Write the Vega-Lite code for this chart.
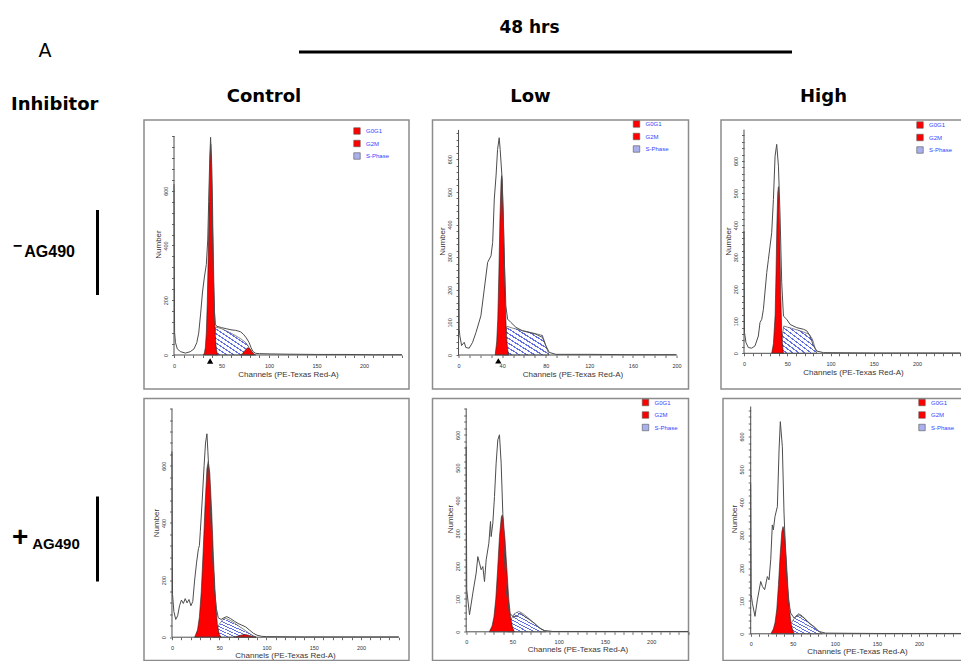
{
"$schema": "https://vega.github.io/schema/vega-lite/v6.json",
"padding": 0,
"background": "white",
"spacing": 0,
"resolve": {"scale": {"color": "independent"}, "legend": {"color": "independent"}},
"datasets": {
"p11": [{"k":"h","ch":0,"n":624},{"k":"h","ch":0.6,"n":83},{"k":"h","ch":1.5,"n":46},{"k":"h","ch":3.5,"n":22},{"k":"h","ch":7,"n":12},{"k":"h","ch":12,"n":7},{"k":"h","ch":17,"n":12},{"k":"h","ch":21,"n":22},{"k":"h","ch":24,"n":45},{"k":"h","ch":26,"n":80},{"k":"h","ch":28,"n":150},{"k":"h","ch":30,"n":230},{"k":"h","ch":32,"n":285},{"k":"h","ch":34,"n":330},{"k":"h","ch":35.5,"n":420},{"k":"h","ch":36.5,"n":560},{"k":"h","ch":37.5,"n":700},{"k":"h","ch":38.5,"n":795},{"k":"h","ch":39.5,"n":700},{"k":"h","ch":40.5,"n":480},{"k":"h","ch":41.5,"n":280},{"k":"h","ch":42.5,"n":160},{"k":"h","ch":43.5,"n":112},{"k":"h","ch":45,"n":105},{"k":"h","ch":50,"n":100},{"k":"h","ch":55,"n":96},{"k":"h","ch":60,"n":92},{"k":"h","ch":65,"n":90},{"k":"h","ch":70,"n":85},{"k":"h","ch":73,"n":76},{"k":"h","ch":76,"n":63},{"k":"h","ch":79,"n":46},{"k":"h","ch":81,"n":28},{"k":"h","ch":83,"n":13},{"k":"h","ch":86,"n":6},{"k":"h","ch":90,"n":5},{"k":"h","ch":100,"n":4},{"k":"h","ch":120,"n":3},{"k":"h","ch":150,"n":2},{"k":"h","ch":180,"n":2},{"k":"h","ch":210,"n":1},{"k":"h","ch":240,"n":1},
{"k":"g1","ch":31,"n":0},{"k":"g1","ch":32,"n":8},{"k":"g1","ch":33,"n":27},{"k":"g1","ch":34,"n":80},{"k":"g1","ch":35,"n":188},{"k":"g1","ch":36,"n":360},{"k":"g1","ch":37,"n":570},{"k":"g1","ch":38,"n":730},{"k":"g1","ch":38.7,"n":770},{"k":"g1","ch":39.5,"n":720},{"k":"g1","ch":40.5,"n":565},{"k":"g1","ch":41.5,"n":345},{"k":"g1","ch":42.5,"n":175},{"k":"g1","ch":43.5,"n":70},{"k":"g1","ch":44.5,"n":23},{"k":"g1","ch":45.5,"n":6},{"k":"g1","ch":46,"n":0},
{"k":"g2","ch":70,"n":0},{"k":"g2","ch":72,"n":5},{"k":"g2","ch":74,"n":13},{"k":"g2","ch":76,"n":22},{"k":"g2","ch":78,"n":27},{"k":"g2","ch":80,"n":22},{"k":"g2","ch":82,"n":12},{"k":"g2","ch":84,"n":4},{"k":"g2","ch":86,"n":0},
{"k":"s","ch":40,"n":0},{"k":"s","ch":42,"n":50},{"k":"s","ch":44,"n":102},{"k":"s","ch":50,"n":96},{"k":"s","ch":60,"n":80},{"k":"s","ch":70,"n":60},{"k":"s","ch":76,"n":44},{"k":"s","ch":80,"n":22},{"k":"s","ch":84,"n":0},
{"k":"mk","ch":38,"n":0}],
"p12": [{"k":"h","ch":0,"n":544},{"k":"h","ch":0.6,"n":80},{"k":"h","ch":1.2,"n":59},{"k":"h","ch":2.8,"n":29},{"k":"h","ch":5.2,"n":39},{"k":"h","ch":6.7,"n":23},{"k":"h","ch":9.8,"n":21},{"k":"h","ch":12.9,"n":39},{"k":"h","ch":16,"n":69},{"k":"h","ch":20.5,"n":120},{"k":"h","ch":23.6,"n":202},{"k":"h","ch":26.7,"n":284},{"k":"h","ch":29.8,"n":304},{"k":"h","ch":31.3,"n":345},{"k":"h","ch":32.8,"n":478},{"k":"h","ch":34.4,"n":549},{"k":"h","ch":35.8,"n":630},{"k":"h","ch":37.3,"n":666},{"k":"h","ch":38.2,"n":630},{"k":"h","ch":39.8,"n":549},{"k":"h","ch":41,"n":427},{"k":"h","ch":42.2,"n":273},{"k":"h","ch":43.4,"n":151},{"k":"h","ch":45,"n":110},{"k":"h","ch":48,"n":100},{"k":"h","ch":52.6,"n":85},{"k":"h","ch":58.7,"n":74},{"k":"h","ch":64.8,"n":69},{"k":"h","ch":71,"n":64},{"k":"h","ch":77,"n":54},{"k":"h","ch":80,"n":29},{"k":"h","ch":83.2,"n":8},{"k":"h","ch":89.3,"n":2},{"k":"h","ch":120,"n":2},{"k":"h","ch":160,"n":1},{"k":"h","ch":200,"n":1},
{"k":"g1","ch":33.6,"n":0},{"k":"g1","ch":35,"n":40},{"k":"g1","ch":36,"n":110},{"k":"g1","ch":37,"n":250},{"k":"g1","ch":38,"n":420},{"k":"g1","ch":39,"n":530},{"k":"g1","ch":39.5,"n":550},{"k":"g1","ch":40,"n":540},{"k":"g1","ch":41,"n":440},{"k":"g1","ch":42,"n":290},{"k":"g1","ch":43,"n":150},{"k":"g1","ch":44,"n":60},{"k":"g1","ch":45,"n":18},{"k":"g1","ch":46,"n":0},
{"k":"s","ch":41,"n":0},{"k":"s","ch":43,"n":60},{"k":"s","ch":44.5,"n":88},{"k":"s","ch":50,"n":82},{"k":"s","ch":60,"n":74},{"k":"s","ch":70,"n":66},{"k":"s","ch":77,"n":60},{"k":"s","ch":80,"n":30},{"k":"s","ch":83,"n":0},
{"k":"mk","ch":36.5,"n":0}],
"p13": [{"k":"h","ch":0,"n":381},{"k":"h","ch":0.6,"n":64},{"k":"h","ch":2.3,"n":33},{"k":"h","ch":5,"n":18},{"k":"h","ch":8.9,"n":16},{"k":"h","ch":12.7,"n":23},{"k":"h","ch":16.6,"n":54},{"k":"h","ch":18.5,"n":96},{"k":"h","ch":20.5,"n":106},{"k":"h","ch":22.4,"n":137},{"k":"h","ch":26.3,"n":252},{"k":"h","ch":28.2,"n":293},{"k":"h","ch":32,"n":376},{"k":"h","ch":34,"n":480},{"k":"h","ch":35.9,"n":615},{"k":"h","ch":37.8,"n":652},{"k":"h","ch":39.8,"n":584},{"k":"h","ch":41.7,"n":428},{"k":"h","ch":43.6,"n":220},{"k":"h","ch":45.6,"n":116},{"k":"h","ch":49.4,"n":106},{"k":"h","ch":53.3,"n":90},{"k":"h","ch":61,"n":80},{"k":"h","ch":68.7,"n":75},{"k":"h","ch":72.6,"n":70},{"k":"h","ch":76.4,"n":54},{"k":"h","ch":80.3,"n":23},{"k":"h","ch":84.2,"n":7},{"k":"h","ch":92,"n":2},{"k":"h","ch":150,"n":1},{"k":"h","ch":250,"n":1},
{"k":"g1","ch":32,"n":0},{"k":"g1","ch":34,"n":30},{"k":"g1","ch":36,"n":120},{"k":"g1","ch":37,"n":250},{"k":"g1","ch":38,"n":400},{"k":"g1","ch":39,"n":500},{"k":"g1","ch":39.8,"n":520},{"k":"g1","ch":40.5,"n":470},{"k":"g1","ch":41.5,"n":330},{"k":"g1","ch":42.5,"n":180},{"k":"g1","ch":43.5,"n":80},{"k":"g1","ch":44.5,"n":25},{"k":"g1","ch":45.6,"n":0},
{"k":"s","ch":42,"n":0},{"k":"s","ch":44,"n":50},{"k":"s","ch":46,"n":85},{"k":"s","ch":55,"n":78},{"k":"s","ch":65,"n":70},{"k":"s","ch":75,"n":60},{"k":"s","ch":79,"n":45},{"k":"s","ch":84,"n":0}],
"p21": [{"k":"h","ch":0,"n":650},{"k":"h","ch":0.6,"n":150},{"k":"h","ch":2,"n":90},{"k":"h","ch":4,"n":62},{"k":"h","ch":6,"n":75},{"k":"h","ch":8,"n":110},{"k":"h","ch":10,"n":130},{"k":"h","ch":12,"n":118},{"k":"h","ch":14,"n":135},{"k":"h","ch":16,"n":120},{"k":"h","ch":18,"n":132},{"k":"h","ch":20,"n":110},{"k":"h","ch":22,"n":125},{"k":"h","ch":24,"n":200},{"k":"h","ch":26,"n":260},{"k":"h","ch":28,"n":310},{"k":"h","ch":29,"n":320},{"k":"h","ch":30,"n":370},{"k":"h","ch":32,"n":480},{"k":"h","ch":34,"n":600},{"k":"h","ch":35.5,"n":680},{"k":"h","ch":37,"n":712},{"k":"h","ch":38,"n":650},{"k":"h","ch":39.5,"n":550},{"k":"h","ch":41,"n":420},{"k":"h","ch":43,"n":280},{"k":"h","ch":45,"n":170},{"k":"h","ch":47,"n":100},{"k":"h","ch":49,"n":68},{"k":"h","ch":52,"n":62},{"k":"h","ch":55,"n":68},{"k":"h","ch":58,"n":72},{"k":"h","ch":62,"n":65},{"k":"h","ch":66,"n":56},{"k":"h","ch":70,"n":48},{"k":"h","ch":74,"n":42},{"k":"h","ch":78,"n":36},{"k":"h","ch":82,"n":25},{"k":"h","ch":86,"n":14},{"k":"h","ch":90,"n":7},{"k":"h","ch":95,"n":3},{"k":"h","ch":100,"n":2},{"k":"h","ch":140,"n":1},{"k":"h","ch":240,"n":1},
{"k":"g1","ch":24,"n":0},{"k":"g1","ch":27,"n":25},{"k":"g1","ch":29,"n":70},{"k":"g1","ch":31,"n":160},{"k":"g1","ch":33,"n":300},{"k":"g1","ch":35,"n":460},{"k":"g1","ch":37,"n":590},{"k":"g1","ch":38.4,"n":615},{"k":"g1","ch":40,"n":575},{"k":"g1","ch":42,"n":440},{"k":"g1","ch":44,"n":270},{"k":"g1","ch":46,"n":130},{"k":"g1","ch":48,"n":45},{"k":"g1","ch":50,"n":10},{"k":"g1","ch":52,"n":0},
{"k":"g2","ch":66,"n":0},{"k":"g2","ch":70,"n":4},{"k":"g2","ch":74,"n":8},{"k":"g2","ch":78,"n":9},{"k":"g2","ch":82,"n":6},{"k":"g2","ch":86,"n":2},{"k":"g2","ch":89,"n":0},
{"k":"s","ch":44,"n":0},{"k":"s","ch":47,"n":25},{"k":"s","ch":50,"n":45},{"k":"s","ch":54,"n":62},{"k":"s","ch":57,"n":66},{"k":"s","ch":61,"n":60},{"k":"s","ch":66,"n":50},{"k":"s","ch":71,"n":38},{"k":"s","ch":76,"n":27},{"k":"s","ch":81,"n":15},{"k":"s","ch":86,"n":5},{"k":"s","ch":89,"n":0}],
"p22": [{"k":"h","ch":0,"n":564},{"k":"h","ch":0.6,"n":128},{"k":"h","ch":3.6,"n":52},{"k":"h","ch":7.2,"n":118},{"k":"h","ch":10.8,"n":179},{"k":"h","ch":12.6,"n":229},{"k":"h","ch":14.4,"n":209},{"k":"h","ch":16.2,"n":189},{"k":"h","ch":18,"n":199},{"k":"h","ch":19.8,"n":153},{"k":"h","ch":21.6,"n":219},{"k":"h","ch":24.5,"n":270},{"k":"h","ch":26.3,"n":336},{"k":"h","ch":27,"n":290},{"k":"h","ch":28.8,"n":331},{"k":"h","ch":30.6,"n":412},{"k":"h","ch":32.4,"n":514},{"k":"h","ch":34.2,"n":585},{"k":"h","ch":36,"n":600},{"k":"h","ch":37.8,"n":514},{"k":"h","ch":39.6,"n":361},{"k":"h","ch":41.4,"n":229},{"k":"h","ch":43.2,"n":128},{"k":"h","ch":46.8,"n":57},{"k":"h","ch":50.5,"n":47},{"k":"h","ch":54.8,"n":47},{"k":"h","ch":58.4,"n":57},{"k":"h","ch":63,"n":47},{"k":"h","ch":68.5,"n":37},{"k":"h","ch":73.9,"n":26},{"k":"h","ch":79.3,"n":11},{"k":"h","ch":84.7,"n":4},{"k":"h","ch":93.7,"n":1},{"k":"h","ch":240,"n":1},
{"k":"g1","ch":25,"n":0},{"k":"g1","ch":28,"n":18},{"k":"g1","ch":30,"n":45},{"k":"g1","ch":32,"n":100},{"k":"g1","ch":34,"n":190},{"k":"g1","ch":36,"n":290},{"k":"g1","ch":38,"n":350},{"k":"g1","ch":39,"n":356},{"k":"g1","ch":40,"n":345},{"k":"g1","ch":42,"n":280},{"k":"g1","ch":44,"n":190},{"k":"g1","ch":46,"n":100},{"k":"g1","ch":48,"n":45},{"k":"g1","ch":50,"n":15},{"k":"g1","ch":52,"n":0},
{"k":"s","ch":45,"n":0},{"k":"s","ch":48,"n":35},{"k":"s","ch":52,"n":55},{"k":"s","ch":57,"n":62},{"k":"s","ch":61,"n":56},{"k":"s","ch":66,"n":45},{"k":"s","ch":71,"n":32},{"k":"s","ch":76,"n":20},{"k":"s","ch":81,"n":9},{"k":"s","ch":86,"n":0}],
"p23": [{"k":"h","ch":0,"n":456},{"k":"h","ch":0.6,"n":120},{"k":"h","ch":2,"n":93},{"k":"h","ch":5.1,"n":53},{"k":"h","ch":7.9,"n":103},{"k":"h","ch":11.9,"n":159},{"k":"h","ch":13.9,"n":144},{"k":"h","ch":16.6,"n":134},{"k":"h","ch":19.8,"n":174},{"k":"h","ch":21.8,"n":164},{"k":"h","ch":23.8,"n":225},{"k":"h","ch":25.7,"n":331},{"k":"h","ch":26.9,"n":316},{"k":"h","ch":28.9,"n":357},{"k":"h","ch":31.7,"n":387},{"k":"h","ch":33.7,"n":559},{"k":"h","ch":35.2,"n":645},{"k":"h","ch":37.6,"n":569},{"k":"h","ch":39.6,"n":367},{"k":"h","ch":41.6,"n":235},{"k":"h","ch":44.4,"n":113},{"k":"h","ch":47.5,"n":63},{"k":"h","ch":51.5,"n":48},{"k":"h","ch":57.4,"n":58},{"k":"h","ch":63.4,"n":48},{"k":"h","ch":69.3,"n":32},{"k":"h","ch":75.2,"n":22},{"k":"h","ch":81.2,"n":7},{"k":"h","ch":89,"n":2},{"k":"h","ch":150,"n":1},{"k":"h","ch":250,"n":1},
{"k":"g1","ch":24,"n":0},{"k":"g1","ch":27,"n":15},{"k":"g1","ch":29,"n":35},{"k":"g1","ch":31,"n":75},{"k":"g1","ch":33,"n":150},{"k":"g1","ch":35,"n":240},{"k":"g1","ch":37,"n":310},{"k":"g1","ch":38.4,"n":326},{"k":"g1","ch":40,"n":310},{"k":"g1","ch":42,"n":240},{"k":"g1","ch":44,"n":150},{"k":"g1","ch":46,"n":75},{"k":"g1","ch":48,"n":30},{"k":"g1","ch":50,"n":10},{"k":"g1","ch":52,"n":0},
{"k":"s","ch":42,"n":0},{"k":"s","ch":46,"n":22},{"k":"s","ch":50,"n":40},{"k":"s","ch":54,"n":55},{"k":"s","ch":57,"n":61},{"k":"s","ch":61,"n":55},{"k":"s","ch":66,"n":42},{"k":"s","ch":71,"n":30},{"k":"s","ch":76,"n":18},{"k":"s","ch":81,"n":7},{"k":"s","ch":85,"n":0}]
},
"vconcat": [
{"hconcat": [
  {"width": 90, "height": 62, "data": {"values": [{}]}, "layer": [
    {"mark": {"type": "text", "text": "A", "font": "DejaVu Sans", "fontSize": 19, "color": "#000000", "dy": 20}, "encoding": {}}
  ]},
  {"width": 493, "height": 52, "data": {"values": [{}]}, "layer": [
    {"mark": {"type": "text", "text": "48 hrs", "font": "DejaVu Sans", "fontSize": 17, "fontWeight": "bold", "color": "#000000", "dx": -16, "dy": 2}, "encoding": {}},
    {"mark": {"type": "rule", "color": "#000000", "strokeWidth": 3}, "encoding": {"y": {"datum": 0, "type": "quantitative", "scale": {"domain": [0, 1]}, "axis": null}}}
  ]}
], "spacing": 207},
{"hconcat": [
  {"width": 97.5, "height": 57, "data": {"values": [{}]}, "layer": [
    {"mark": {"type": "text", "text": "Inhibitor", "font": "DejaVu Sans", "fontSize": 18, "fontWeight": "bold", "color": "#000000", "dx": 6, "dy": 14}, "encoding": {}}
  ]},
  {"hconcat": [
    {"width": 265, "height": 57, "data": {"values": [{}]}, "layer": [
      {"mark": {"type": "text", "text": "Control", "font": "DejaVu Sans", "fontSize": 18, "fontWeight": "bold", "color": "#000000", "dx": -11.5, "dy": 6}, "encoding": {}}
    ]},
    {"hconcat": [
      {"width": 256, "height": 57, "data": {"values": [{}]}, "layer": [
        {"mark": {"type": "text", "text": "Low", "font": "DejaVu Sans", "fontSize": 18, "fontWeight": "bold", "color": "#000000", "dx": -27, "dy": 6}, "encoding": {}}
      ]},
      {"width": 241, "height": 57, "data": {"values": [{}]}, "layer": [
        {"mark": {"type": "text", "text": "High", "font": "DejaVu Sans", "fontSize": 18, "fontWeight": "bold", "color": "#000000", "dx": -13, "dy": 6}, "encoding": {}}
      ]}
    ], "spacing": 30.5}
  ], "spacing": 21.5}
], "spacing": 44},
{"vconcat": [
  {"hconcat": [
    {"vconcat": [
      {"width": 97.5, "height": 88, "view": {"fill": "transparent"}, "data": {"values": []}, "mark": "point", "encoding": {}},
      {"width": 97.5, "height": 85, "data": {"values": [{}]}, "layer": [
        {"mark": {"type": "text", "text": "−", "font": "Liberation Sans", "fontSize": 16, "fontWeight": "bold", "color": "#000000", "align": "left", "dx": -36, "dy": -7}, "encoding": {}},
        {"mark": {"type": "text", "text": "AG490", "font": "Liberation Sans", "fontSize": 16, "fontWeight": "bold", "color": "#000000", "align": "left", "dx": -24.5, "dy": -1}, "encoding": {}},
        {"mark": {"type": "rule", "color": "#000000", "strokeWidth": 3}, "encoding": {"x": {"datum": 1, "type": "quantitative", "scale": {"domain": [0, 1]}, "axis": null}}}
      ]}
    ], "spacing": 0},
    {"hconcat": [
      {"width": 265, "height": 269, "view": {"stroke": "#8c8c8c", "strokeWidth": 1.5},
       "data": {"name": "p11"},
       "layer": [
        {"transform": [{"filter": "datum.k == 's'"}], "mark": {"type": "area"},
         "encoding": {
          "x": {"field": "ch", "type": "quantitative", "scale": {"domain": [-31.6, 247.4], "nice": false, "zero": false}, "axis": {"values": [0,10,20,30,40,50,60,70,80,90,100,110,120,130,140,150,160,170,180,190,200,210,220,230,240], "labelExpr": "datum.value % 50 == 0 ? datum.label : ''", "labelOverlap": false, "tickCount": 100, "offset": -34, "title": "Channels (PE-Texas Red-A)", "titleX": 144, "titleY": 15}},
          "y": {"field": "n", "type": "quantitative", "stack": null, "scale": {"domain": [-124.2, 858.3], "nice": false, "zero": false}, "axis": {"values": [0,40,80,120,160,200,240,280,320,360,400,440,480,520,560,600,640,680,720,760,800], "labelExpr": "datum.value % 200 == 0 && datum.value < 800 ? datum.label : ''", "labelOverlap": false, "tickCount": 100, "offset": -30, "title": "Number", "titleX": -12, "titleY": 124}}
         }},
        {"transform": [{"filter": "datum.k == 'g1'"}], "mark": {"type": "area", "stroke": "#222222", "strokeWidth": 0.6}, "encoding": {"x": {"field": "ch", "type": "quantitative"}, "y": {"field": "n", "type": "quantitative", "stack": null}, "color": {"datum": "G0G1", "scale": {"domain": ["G0G1", "G2M", "S-Phase"], "range": ["#ff0000", "#ff0000", "#aab0ee"]}, "legend": {"title": null, "orient": "none", "legendX": 209, "legendY": 7}}}},
        {"transform": [{"filter": "datum.k == 'g2'"}], "mark": {"type": "area", "stroke": "#222222", "strokeWidth": 0.6}, "encoding": {"x": {"field": "ch", "type": "quantitative"}, "y": {"field": "n", "type": "quantitative", "stack": null}, "color": {"datum": "G2M"}}},
        {"transform": [{"filter": "datum.k == 'h'"}], "mark": {"type": "line", "color": "#4d4d4d", "strokeWidth": 1}, "encoding": {"x": {"field": "ch", "type": "quantitative"}, "y": {"field": "n", "type": "quantitative"}}},
        {"data": {"values": [{}]}, "mark": {"type": "rule", "color": "#4d4d4d", "strokeWidth": 1}, "encoding": {"x": {"datum": 0}, "x2": {"datum": 240}, "y": {"datum": 0}}},
        {"data": {"values": [{}]}, "mark": {"type": "rule", "color": "#4d4d4d", "strokeWidth": 1}, "encoding": {"x": {"datum": 0}, "y": {"datum": 0}, "y2": {"datum": 800}}},
        {"transform": [{"filter": "datum.k == 'mk'"}], "mark": {"type": "point", "shape": "triangle-up", "filled": true, "color": "#000000", "size": 40, "opacity": 1}, "encoding": {"x": {"field": "ch", "type": "quantitative"}, "y": {"datum": -22}}}
       ]},
      {"hconcat": [
        {"width": 256, "height": 269, "view": {"stroke": "#8c8c8c", "strokeWidth": 1.5},
         "data": {"name": "p12"},
         "layer": [
          {"transform": [{"filter": "datum.k == 's'"}], "mark": {"type": "area"},
           "encoding": {
            "x": {"field": "ch", "type": "quantitative", "scale": {"domain": [-23.9, 211], "nice": false, "zero": false}, "axis": {"values": [0,10,20,30,40,50,60,70,80,90,100,110,120,130,140,150,160,170,180,190,200], "labelExpr": "datum.value % 40 == 0 ? datum.label : ''", "labelOverlap": false, "tickCount": 100, "offset": -34, "title": "Channels (PE-Texas Red-A)", "titleX": 140, "titleY": 15}},
            "y": {"field": "n", "type": "quantitative", "stack": null, "scale": {"domain": [-104.2, 720.4], "nice": false, "zero": false}, "axis": {"values": [0,20,40,60,80,100,120,140,160,180,200,220,240,260,280,300,320,340,360,380,400,420,440,460,480,500,520,540,560,580,600,620,640,660,680], "labelExpr": "datum.value % 100 == 0 ? datum.label : ''", "labelOverlap": false, "tickCount": 100, "offset": -26, "title": "Number", "titleX": -12, "titleY": 121}}
           }},
          {"transform": [{"filter": "datum.k == 'g1'"}], "mark": {"type": "area", "stroke": "#222222", "strokeWidth": 0.6}, "encoding": {"x": {"field": "ch", "type": "quantitative"}, "y": {"field": "n", "type": "quantitative", "stack": null}, "color": {"datum": "G0G1", "scale": {"domain": ["G0G1", "G2M", "S-Phase"], "range": ["#ff0000", "#ff0000", "#aab0ee"]}, "legend": {"title": null, "orient": "none", "legendX": 200, "legendY": 0}}}},
          {"transform": [{"filter": "datum.k == 'h'"}], "mark": {"type": "line", "color": "#4d4d4d", "strokeWidth": 1}, "encoding": {"x": {"field": "ch", "type": "quantitative"}, "y": {"field": "n", "type": "quantitative"}}},
          {"data": {"values": [{}]}, "mark": {"type": "rule", "color": "#4d4d4d", "strokeWidth": 1}, "encoding": {"x": {"datum": 0}, "x2": {"datum": 200}, "y": {"datum": 0}}},
          {"data": {"values": [{}]}, "mark": {"type": "rule", "color": "#4d4d4d", "strokeWidth": 1}, "encoding": {"x": {"datum": 0}, "y": {"datum": 0}, "y2": {"datum": 690}}},
          {"transform": [{"filter": "datum.k == 'mk'"}], "mark": {"type": "point", "shape": "triangle-up", "filled": true, "color": "#000000", "size": 40, "opacity": 1}, "encoding": {"x": {"field": "ch", "type": "quantitative"}, "y": {"datum": -18}}}
         ]},
        {"width": 241, "height": 269, "view": {"stroke": "#8c8c8c", "strokeWidth": 1.5},
         "data": {"name": "p13"},
         "layer": [
          {"transform": [{"filter": "datum.k == 's'"}], "mark": {"type": "area"},
           "encoding": {
            "x": {"field": "ch", "type": "quantitative", "scale": {"domain": [-26.6, 252], "nice": false, "zero": false}, "axis": {"values": [0,10,20,30,40,50,60,70,80,90,100,110,120,130,140,150,160,170,180,190,200,210,220,230,240,250], "labelExpr": "datum.value % 50 == 0 && datum.value < 250 ? datum.label : ''", "labelOverlap": false, "tickCount": 100, "offset": -35.7, "title": "Channels (PE-Texas Red-A)", "titleX": 132, "titleY": 15}},
            "y": {"field": "n", "type": "quantitative", "stack": null, "scale": {"domain": [-111.4, 728], "nice": false, "zero": false}, "axis": {"values": [0,20,40,60,80,100,120,140,160,180,200,220,240,260,280,300,320,340,360,380,400,420,440,460,480,500,520,540,560,580,600,620,640,660,680], "labelExpr": "datum.value % 100 == 0 ? datum.label : ''", "labelOverlap": false, "tickCount": 100, "offset": -23, "title": "Number", "titleX": -12, "titleY": 121}}
           }},
          {"transform": [{"filter": "datum.k == 'g1'"}], "mark": {"type": "area", "stroke": "#222222", "strokeWidth": 0.6}, "encoding": {"x": {"field": "ch", "type": "quantitative"}, "y": {"field": "n", "type": "quantitative", "stack": null}, "color": {"datum": "G0G1", "scale": {"domain": ["G0G1", "G2M", "S-Phase"], "range": ["#ff0000", "#ff0000", "#aab0ee"]}, "legend": {"title": null, "orient": "none", "legendX": 195, "legendY": 1}}}},
          {"transform": [{"filter": "datum.k == 'h'"}], "mark": {"type": "line", "color": "#4d4d4d", "strokeWidth": 1}, "encoding": {"x": {"field": "ch", "type": "quantitative"}, "y": {"field": "n", "type": "quantitative"}}},
          {"data": {"values": [{}]}, "mark": {"type": "rule", "color": "#4d4d4d", "strokeWidth": 1}, "encoding": {"x": {"datum": 0}, "x2": {"datum": 251}, "y": {"datum": 0}}},
          {"data": {"values": [{}]}, "mark": {"type": "rule", "color": "#4d4d4d", "strokeWidth": 1}, "encoding": {"x": {"datum": 0}, "y": {"datum": 0}, "y2": {"datum": 698}}}
         ]}
      ], "spacing": 30.5, "resolve": {"scale": {"color": "independent"}, "legend": {"color": "independent"}}}
    ], "spacing": 21.5, "resolve": {"scale": {"color": "independent"}, "legend": {"color": "independent"}}}
  ], "spacing": 44, "resolve": {"scale": {"color": "independent"}, "legend": {"color": "independent"}}},
  {"hconcat": [
    {"vconcat": [
      {"width": 97.5, "height": 96, "view": {"fill": "transparent"}, "data": {"values": []}, "mark": "point", "encoding": {}},
      {"width": 97.5, "height": 85, "data": {"values": [{}]}, "layer": [
        {"mark": {"type": "text", "text": "+", "font": "Liberation Sans", "fontSize": 28, "fontWeight": "bold", "color": "#000000", "dx": -28.5, "dy": -1.5}, "encoding": {}},
        {"mark": {"type": "text", "text": "AG490", "font": "Liberation Sans", "fontSize": 15, "fontWeight": "bold", "color": "#000000", "align": "left", "dx": -16.5, "dy": 4.5}, "encoding": {}},
        {"mark": {"type": "rule", "color": "#000000", "strokeWidth": 3}, "encoding": {"x": {"datum": 1, "type": "quantitative", "scale": {"domain": [0, 1]}, "axis": null}}}
      ]}
    ], "spacing": 0},
    {"hconcat": [
      {"width": 265, "height": 262, "view": {"stroke": "#8c8c8c", "strokeWidth": 1.5},
       "data": {"name": "p21"},
       "layer": [
        {"transform": [{"filter": "datum.k == 's'"}], "mark": {"type": "area"},
         "encoding": {
          "x": {"field": "ch", "type": "quantitative", "scale": {"domain": [-29.6, 250.8], "nice": false, "zero": false}, "axis": {"values": [0,10,20,30,40,50,60,70,80,90,100,110,120,130,140,150,160,170,180,190,200,210,220,230,240], "labelExpr": "datum.value % 50 == 0 ? datum.label : ''", "labelOverlap": false, "tickCount": 100, "offset": -23.3, "title": "Channels (PE-Texas Red-A)", "titleX": 141, "titleY": 14}},
          "y": {"field": "n", "type": "quantitative", "stack": null, "scale": {"domain": [-81.6, 835.5], "nice": false, "zero": false}, "axis": {"values": [0,40,80,120,160,200,240,280,320,360,400,440,480,520,560,600,640,680,720,760,800], "labelExpr": "datum.value % 200 == 0 && datum.value < 800 ? datum.label : ''", "labelOverlap": false, "tickCount": 100, "offset": -28, "title": "Number", "titleX": -12, "titleY": 124}}
         }},
        {"transform": [{"filter": "datum.k == 'g1'"}], "mark": {"type": "area", "stroke": "#222222", "strokeWidth": 0.6}, "encoding": {"x": {"field": "ch", "type": "quantitative"}, "y": {"field": "n", "type": "quantitative", "stack": null}, "color": {"datum": "G0G1", "scale": {"domain": ["G0G1", "G2M", "S-Phase"], "range": ["#ff0000", "#ff0000", "#aab0ee"]}, "legend": null}}},
        {"transform": [{"filter": "datum.k == 'g2'"}], "mark": {"type": "area", "stroke": "#222222", "strokeWidth": 0.6}, "encoding": {"x": {"field": "ch", "type": "quantitative"}, "y": {"field": "n", "type": "quantitative", "stack": null}, "color": {"datum": "G2M"}}},
        {"transform": [{"filter": "datum.k == 'h'"}], "mark": {"type": "line", "color": "#4d4d4d", "strokeWidth": 1}, "encoding": {"x": {"field": "ch", "type": "quantitative"}, "y": {"field": "n", "type": "quantitative"}}},
        {"data": {"values": [{}]}, "mark": {"type": "rule", "color": "#4d4d4d", "strokeWidth": 1}, "encoding": {"x": {"datum": 0}, "x2": {"datum": 240}, "y": {"datum": 0}}},
        {"data": {"values": [{}]}, "mark": {"type": "rule", "color": "#4d4d4d", "strokeWidth": 1}, "encoding": {"x": {"datum": 0}, "y": {"datum": 0}, "y2": {"datum": 800}}}
       ]},
      {"hconcat": [
        {"width": 256, "height": 262, "view": {"stroke": "#8c8c8c", "strokeWidth": 1.5},
         "data": {"name": "p22"},
         "layer": [
          {"transform": [{"filter": "datum.k == 's'"}], "mark": {"type": "area"},
           "encoding": {
            "x": {"field": "ch", "type": "quantitative", "scale": {"domain": [-36.4, 240.3], "nice": false, "zero": false}, "axis": {"values": [0,10,20,30,40,50,60,70,80,90,100,110,120,130,140,150,160,170,180,190,200,210,220,230,240], "labelExpr": "datum.value % 50 == 0 ? datum.label : ''", "labelOverlap": false, "tickCount": 100, "offset": -28.7, "title": "Channels (PE-Texas Red-A)", "titleX": 145, "titleY": 14}},
            "y": {"field": "n", "type": "quantitative", "stack": null, "scale": {"domain": [-87.4, 710.6], "nice": false, "zero": false}, "axis": {"values": [0,20,40,60,80,100,120,140,160,180,200,220,240,260,280,300,320,340,360,380,400,420,440,460,480,500,520,540,560,580,600,620,640,660,680], "labelExpr": "datum.value % 100 == 0 ? datum.label : ''", "labelOverlap": false, "tickCount": 100, "offset": -33.7, "title": "Number", "titleX": -12, "titleY": 120}}
           }},
          {"transform": [{"filter": "datum.k == 'g1'"}], "mark": {"type": "area", "stroke": "#222222", "strokeWidth": 0.6}, "encoding": {"x": {"field": "ch", "type": "quantitative"}, "y": {"field": "n", "type": "quantitative", "stack": null}, "color": {"datum": "G0G1", "scale": {"domain": ["G0G1", "G2M", "S-Phase"], "range": ["#ff0000", "#ff0000", "#aab0ee"]}, "legend": {"title": null, "orient": "none", "legendX": 209, "legendY": 0}}}},
          {"transform": [{"filter": "datum.k == 'h'"}], "mark": {"type": "line", "color": "#4d4d4d", "strokeWidth": 1}, "encoding": {"x": {"field": "ch", "type": "quantitative"}, "y": {"field": "n", "type": "quantitative"}}},
          {"data": {"values": [{}]}, "mark": {"type": "rule", "color": "#4d4d4d", "strokeWidth": 1}, "encoding": {"x": {"datum": 0}, "x2": {"datum": 240}, "y": {"datum": 0}}},
          {"data": {"values": [{}]}, "mark": {"type": "rule", "color": "#4d4d4d", "strokeWidth": 1}, "encoding": {"x": {"datum": 0}, "y": {"datum": 0}, "y2": {"datum": 680}}}
         ]},
        {"width": 241, "height": 262, "view": {"stroke": "#8c8c8c", "strokeWidth": 1.5},
         "data": {"name": "p23"},
         "layer": [
          {"transform": [{"filter": "datum.k == 's'"}], "mark": {"type": "area"},
           "encoding": {
            "x": {"field": "ch", "type": "quantitative", "scale": {"domain": [-32.9, 253.4], "nice": false, "zero": false}, "axis": {"values": [0,10,20,30,40,50,60,70,80,90,100,110,120,130,140,150,160,170,180,190,200,210,220,230,240,250], "labelExpr": "datum.value % 50 == 0 && datum.value < 250 ? datum.label : ''", "labelOverlap": false, "tickCount": 100, "offset": -26.7, "title": "Channels (PE-Texas Red-A)", "titleX": 134, "titleY": 14}},
            "y": {"field": "n", "type": "quantitative", "stack": null, "scale": {"domain": [-81.2, 715.4], "nice": false, "zero": false}, "axis": {"values": [0,20,40,60,80,100,120,140,160,180,200,220,240,260,280,300,320,340,360,380,400,420,440,460,480,500,520,540,560,580,600,620,640,660,680], "labelExpr": "datum.value % 100 == 0 ? datum.label : ''", "labelOverlap": false, "tickCount": 100, "offset": -27.7, "title": "Number", "titleX": -12, "titleY": 120}}
           }},
          {"transform": [{"filter": "datum.k == 'g1'"}], "mark": {"type": "area", "stroke": "#222222", "strokeWidth": 0.6}, "encoding": {"x": {"field": "ch", "type": "quantitative"}, "y": {"field": "n", "type": "quantitative", "stack": null}, "color": {"datum": "G0G1", "scale": {"domain": ["G0G1", "G2M", "S-Phase"], "range": ["#ff0000", "#ff0000", "#aab0ee"]}, "legend": {"title": null, "orient": "none", "legendX": 195, "legendY": 0}}}},
          {"transform": [{"filter": "datum.k == 'h'"}], "mark": {"type": "line", "color": "#4d4d4d", "strokeWidth": 1}, "encoding": {"x": {"field": "ch", "type": "quantitative"}, "y": {"field": "n", "type": "quantitative"}}},
          {"data": {"values": [{}]}, "mark": {"type": "rule", "color": "#4d4d4d", "strokeWidth": 1}, "encoding": {"x": {"datum": 0}, "x2": {"datum": 253}, "y": {"datum": 0}}},
          {"data": {"values": [{}]}, "mark": {"type": "rule", "color": "#4d4d4d", "strokeWidth": 1}, "encoding": {"x": {"datum": 0}, "y": {"datum": 0}, "y2": {"datum": 691}}}
         ]}
      ], "spacing": 30.5, "resolve": {"scale": {"color": "independent"}, "legend": {"color": "independent"}}}
    ], "spacing": 21.5, "resolve": {"scale": {"color": "independent"}, "legend": {"color": "independent"}}}
  ], "spacing": 44, "resolve": {"scale": {"color": "independent"}, "legend": {"color": "independent"}}}
], "spacing": 7.5, "resolve": {"scale": {"color": "independent"}, "legend": {"color": "independent"}}}
],
"config": {
  "font": "Liberation Sans",
  "view": {"stroke": null},
  "area": {"stroke": "#3a3a3a", "strokeWidth": 0.6, "fill": {"gradient":"linear","x1":0,"y1":1,"x2":1,"y2":0,"stops":[{"offset":0,"color":"#6270e6"},{"offset":0.025,"color":"#6270e6"},{"offset":0.025,"color":"#ffffff"},{"offset":0.083,"color":"#ffffff"},{"offset":0.083,"color":"#6270e6"},{"offset":0.108,"color":"#6270e6"},{"offset":0.108,"color":"#ffffff"},{"offset":0.167,"color":"#ffffff"},{"offset":0.167,"color":"#6270e6"},{"offset":0.192,"color":"#6270e6"},{"offset":0.192,"color":"#ffffff"},{"offset":0.25,"color":"#ffffff"},{"offset":0.25,"color":"#6270e6"},{"offset":0.275,"color":"#6270e6"},{"offset":0.275,"color":"#ffffff"},{"offset":0.333,"color":"#ffffff"},{"offset":0.333,"color":"#6270e6"},{"offset":0.358,"color":"#6270e6"},{"offset":0.358,"color":"#ffffff"},{"offset":0.417,"color":"#ffffff"},{"offset":0.417,"color":"#6270e6"},{"offset":0.442,"color":"#6270e6"},{"offset":0.442,"color":"#ffffff"},{"offset":0.5,"color":"#ffffff"},{"offset":0.5,"color":"#6270e6"},{"offset":0.525,"color":"#6270e6"},{"offset":0.525,"color":"#ffffff"},{"offset":0.583,"color":"#ffffff"},{"offset":0.583,"color":"#6270e6"},{"offset":0.608,"color":"#6270e6"},{"offset":0.608,"color":"#ffffff"},{"offset":0.667,"color":"#ffffff"},{"offset":0.667,"color":"#6270e6"},{"offset":0.692,"color":"#6270e6"},{"offset":0.692,"color":"#ffffff"},{"offset":0.75,"color":"#ffffff"},{"offset":0.75,"color":"#6270e6"},{"offset":0.775,"color":"#6270e6"},{"offset":0.775,"color":"#ffffff"},{"offset":0.833,"color":"#ffffff"},{"offset":0.833,"color":"#6270e6"},{"offset":0.858,"color":"#6270e6"},{"offset":0.858,"color":"#ffffff"},{"offset":0.917,"color":"#ffffff"},{"offset":0.917,"color":"#6270e6"},{"offset":0.942,"color":"#6270e6"},{"offset":0.942,"color":"#ffffff"},{"offset":1,"color":"#ffffff"}]}},
  "axis": {"domain": false, "grid": false, "labelFont": "Liberation Sans", "labelFontSize": 5.5, "labelColor": "#333333", "tickColor": "#444444", "tickSize": 2.5, "tickWidth": 0.8, "titleFont": "Liberation Sans", "titleFontSize": 8, "titleFontWeight": "normal", "titleColor": "#3d3535", "labelOverlap": false, "labelBound": false, "labelFlush": false},
  "axisX": {"labelPadding": 5.5, "labelAngle": 0, "titleBaseline": "top", "titleAlign": "center"},
  "axisY": {"labelPadding": 3.5, "labelAngle": -90, "labelAlign": "center", "labelBaseline": "bottom", "titleAngle": -90, "titleBaseline": "bottom", "titleAlign": "center"},
  "legend": {"symbolType": "square", "symbolSize": 42, "symbolStrokeColor": "#555555", "symbolStrokeWidth": 0.6, "symbolOpacity": 1, "labelFont": "Liberation Sans", "labelFontSize": 6, "labelColor": "#3344ff", "rowPadding": 2.5, "labelOffset": 5, "padding": 0}
}
}
